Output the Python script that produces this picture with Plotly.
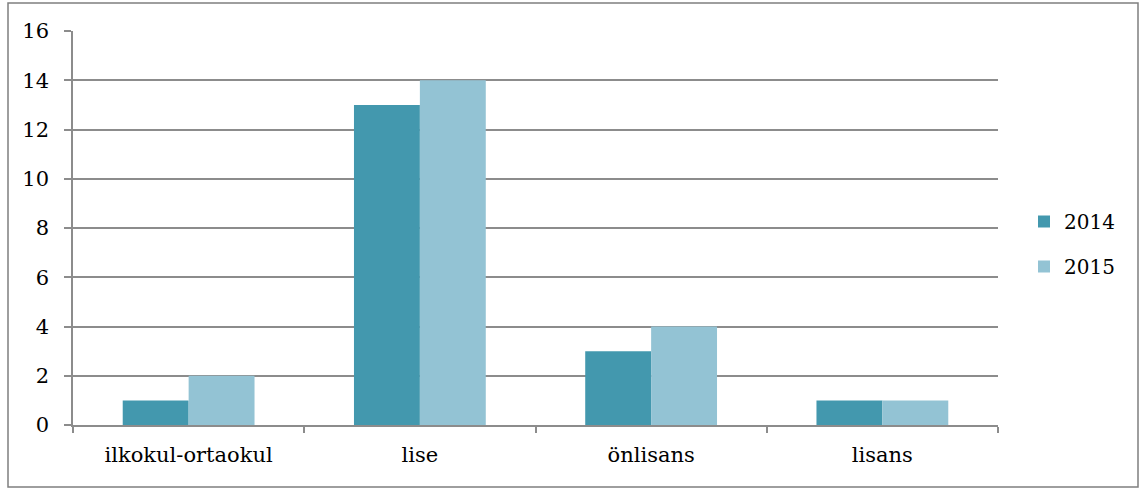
import plotly.graph_objects as go

categories = ["ilkokul-ortaokul", "lise", "önlisans", "lisans"]
values_2014 = [1, 13, 3, 1]
values_2015 = [2, 14, 4, 1]
series_names = ["2014", "2015"]
y_ticks = [0, 2, 4, 6, 8, 10, 12, 14, 16]

W, H = 1142, 491
L, R, T, B = 73, 144, 31, 66
pw, ph = W - L - R, H - T - B

grid = "#8c8c8c"
serif = "DejaVu Serif"

fig = go.Figure()
fig.add_trace(go.Bar(x=categories, y=values_2014, name=series_names[0],
                     marker=dict(color="#4398ae", line=dict(width=0)),
                     legendgroup="a"))
fig.add_trace(go.Bar(x=categories, y=values_2015, name=series_names[1],
                     marker=dict(color="#93c3d4", line=dict(width=0)),
                     legendgroup="b"))

# outer frame around the whole chart
def px_x(p):
    return (p - L) / pw

def px_y(p):
    return (H - B - p) / ph

fig.add_shape(type="rect", xref="paper", yref="paper",
              x0=px_x(8), x1=px_x(1138), y0=px_y(487), y1=px_y(3),
              line=dict(color="#7f7f7f", width=1.5), fillcolor="rgba(0,0,0,0)",
              layer="below")

fig.update_layout(
    width=W, height=H,
    margin=dict(l=L, r=R, t=T, b=B, autoexpand=False),
    paper_bgcolor="white", plot_bgcolor="white",
    barmode="group", bargap=0.43, bargroupgap=0,
    font=dict(family=serif, size=20, color="#000000"),
    showlegend=True,
    legend=dict(x=px_x(1024), y=px_y(244), xanchor="left", yanchor="middle",
                traceorder="grouped", tracegroupgap=16,
                itemwidth=30, font=dict(family=serif, size=20, color="#000000")),
)
fig.update_xaxes(
    type="category", showgrid=False, showline=True, linecolor=grid, linewidth=1.5,
    ticks="outside", tickson="boundaries", ticklen=6, tickcolor=grid, tickwidth=1.5,
    ticklabelstandoff=10, tickfont=dict(family=serif, size=21, color="#000000"),
)
fig.update_yaxes(
    range=[0, 16], tickvals=y_ticks, showgrid=True, gridcolor=grid, gridwidth=1.5,
    showline=True, linecolor=grid, linewidth=1.5, zeroline=False,
    ticks="outside", ticklen=7, tickcolor=grid, tickwidth=1.5,
    ticklabelstandoff=11, tickfont=dict(family=serif, size=21, color="#000000"),
)

fig.write_html("out.html")
